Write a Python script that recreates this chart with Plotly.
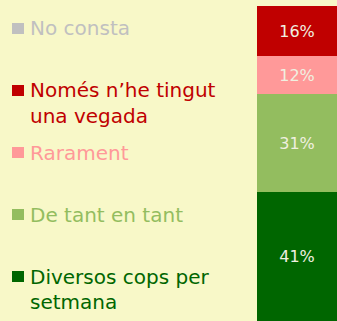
import plotly.graph_objects as go

W, H = 337, 321

# Response categories, top of the stack first
categories = ["No consta", "Només n’he tingut<br>una vegada", "Rarament",
              "De tant en tant", "Diversos cops per<br>setmana"]
values = [0, 16, 12, 31, 41]
colors = ["#c0c0c0", "#c00000", "#ff9999", "#93bd5f", "#006600"]

BG = "#f8f8c8"
FONT = "DejaVu Sans"

fig = go.Figure()

# stack from the bottom up
for name, v, c in reversed(list(zip(categories, values, colors))):
    fig.add_trace(go.Bar(
        x=[0], y=[v], name=name, marker=dict(color=c, line=dict(width=0)),
        width=1,
        text=[f"{v}%" if v > 0 else ""], textposition="inside",
        insidetextanchor="middle",
        textfont=dict(family=FONT, size=16, color="#f0f0e0"),
        hoverinfo="skip", showlegend=False,
    ))

# legend drawn as coloured squares with coloured labels
annotations = []
shapes = []
top0, step, line_gap = 28.5, 62, 25.5
for i, (name, c) in enumerate(zip(categories, colors)):
    yc = top0 + step * i
    shapes.append(dict(type="rect", xref="paper", yref="paper",
                       x0=12 / W, x1=24 / W,
                       y0=1 - (yc + 5.5) / H, y1=1 - (yc - 5.5) / H,
                       fillcolor=c, line=dict(width=0)))
    for j, line in enumerate(name.split("<br>")):
        annotations.append(dict(
            x=27.5 / W, y=1 - (yc + j * line_gap) / H,
            xref="paper", yref="paper", xanchor="left", yanchor="middle",
            text=line, showarrow=False,
            font=dict(family=FONT, size=20, color=c)))

fig.update_layout(
    width=W, height=H, margin=dict(l=0, r=0, t=0, b=0),
    paper_bgcolor=BG, plot_bgcolor=BG,
    barmode="stack", bargap=0,
    xaxis=dict(domain=[257 / W, 1], range=[-0.5, 0.5], visible=False,
               fixedrange=True),
    yaxis=dict(domain=[0, 1 - 6 / H], range=[0, 100], visible=False,
               fixedrange=True),
    annotations=annotations, shapes=shapes,
    uniformtext=dict(minsize=8, mode="show"),
)

fig.write_html("out.html")
